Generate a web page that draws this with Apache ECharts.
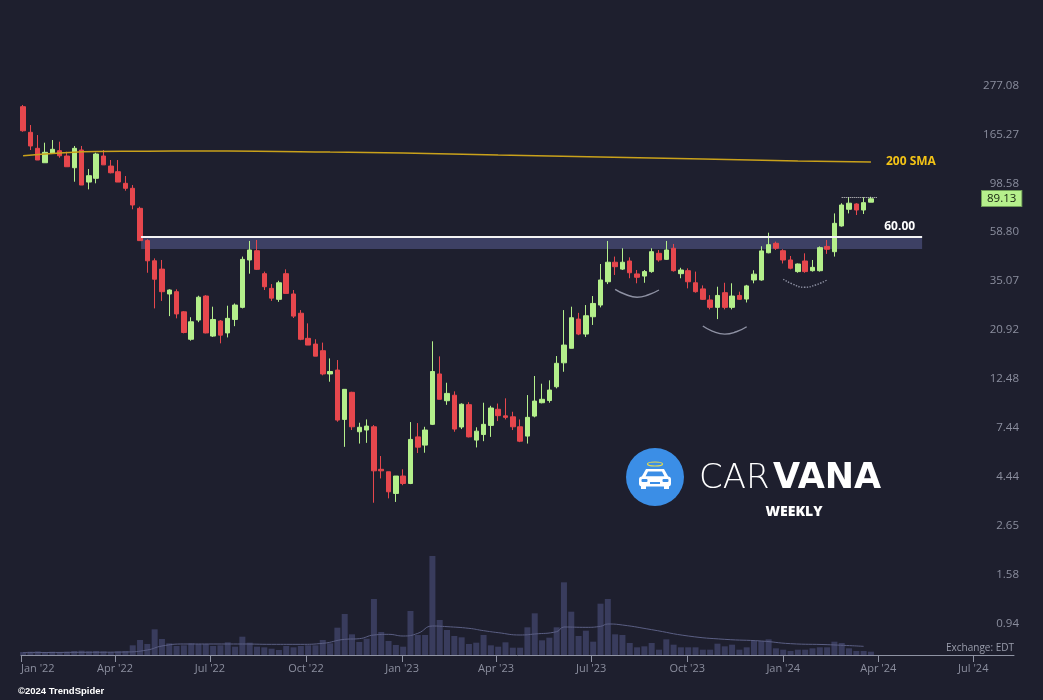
<!DOCTYPE html>
<html><head><meta charset="utf-8">
<script src="https://cdn.jsdelivr.net/npm/echarts@6/dist/echarts.min.js"></script>
<style>html,body{margin:0;padding:0;background:#1e1f2e;}#chart{width:1043px;height:700px;}</style>
</head><body><div id="chart"></div>
<script>
// ---------------- data ----------------
const firstWeek = '2022-01-03';   // weekly candles, one per week from this Monday
const candleOpen = [236.0,180.0,152.0,130.5,144.1,148.2,140.1,123.8,149.3,106.4,
110.7,140.1,126.0,118.7,105.0,99.6,80.6,57.3,46.3,42.4,
32.6,33.4,27.0,20.2,24.75,31.9,20.9,24.5,21.6,24.9,
28.3,46.7,51.5,40.4,34.6,30.8,40.4,32.6,26.6,20.4,
19.2,17.9,14.0,14.59,8.66,11.53,7.60,7.74,8.01,5.11,
4.98,3.96,4.76,4.40,7.20,6.60,8.22,14.0,10.55,11.18,
7.99,10.12,6.96,7.38,8.13,9.64,8.99,8.90,8.01,7.26,
8.97,10.33,10.57,12.23,15.75,18.36,25.0,21.34,25.63,29.0,
37.1,45.6,42.4,46.2,40.3,39.4,41.3,50.1,47.0,52.85,
40.4,41.7,36.7,34.4,30.6,28.3,33.06,28.3,32.1,30.9,
37.8,37.8,50.4,55.7,51.5,46.7,41.3,46.2,41.7,41.7,
53.9,50.97,66.9,79.8,84.4,79.2,86.0];
const candleClose = [183.0,155.8,134.3,145.7,150.4,140.5,125.1,152.0,103.1,113.8,
143.1,127.6,117.4,106.4,99.6,83.5,57.3,46.3,38.1,33.4,
34.0,26.4,21.7,24.3,31.5,21.6,24.9,21.1,25.2,29.0,
47.0,51.9,42.3,35.2,31.2,36.7,32.8,25.8,20.2,19.0,
16.9,14.0,14.37,8.60,11.9,8.01,7.97,8.07,5.03,5.03,
4.03,4.76,4.40,7.01,6.46,7.74,14.37,10.71,11.4,7.82,
10.17,7.20,7.65,8.22,9.77,9.01,8.85,8.01,6.88,8.85,
10.51,10.71,11.81,15.67,19.0,25.36,21.34,25.9,29.5,37.8,
45.6,43.5,45.6,40.8,38.9,41.3,50.97,46.7,51.9,41.7,
42.0,37.1,33.4,30.8,28.3,32.1,28.3,31.9,30.8,35.5,
40.2,51.4,54.9,52.85,46.7,42.8,44.75,41.3,43.2,53.2,
52.3,68.8,83.5,85.1,79.2,85.6,89.13];
const candleLow = [181.1,149.3,134.3,130.5,144.1,137.6,125.1,106.8,103.1,98.5,
105.0,127.6,116.7,106.4,97.1,79.8,57.3,40.8,28.0,30.3,
25.8,25.2,21.5,19.9,24.2,21.5,20.7,19.35,20.6,23.2,
28.0,40.4,42.0,34.0,30.3,30.0,32.8,25.3,20.0,19.0,
16.9,13.8,12.9,8.45,6.48,7.74,6.71,6.76,3.59,4.64,
3.76,3.62,4.32,4.37,6.07,6.09,8.16,10.71,10.1,7.60,
7.82,7.16,6.44,6.88,7.20,8.51,8.66,7.74,6.81,6.71,
8.85,10.26,10.33,12.02,14.33,18.36,21.1,20.7,23.5,28.3,
36.2,39.85,42.0,38.5,36.5,36.7,40.8,45.85,46.7,41.3,
38.5,34.6,33.06,30.6,27.7,25.0,27.7,27.7,30.6,29.8,
36.5,37.5,50.1,51.9,45.0,42.3,40.8,40.8,41.3,41.3,
49.8,48.4,66.4,76.4,75.1,75.9,86.0];
const candleHigh = [240.3,194.4,174.9,161.3,165.9,163.0,146.6,155.8,155.8,122.1,
145.1,149.3,134.3,134.3,113.4,103.1,82.0,58.1,47.5,46.7,
34.25,34.25,27.2,25.5,32.0,32.2,28.5,24.75,28.8,29.5,
48.4,57.1,57.7,41.3,36.2,37.5,42.3,34.0,27.5,23.9,
20.2,19.5,16.5,16.22,11.9,11.6,8.36,8.66,8.16,5.88,
4.98,4.76,5.11,8.42,8.33,8.01,19.77,16.86,12.76,11.65,
10.26,10.39,7.97,10.33,10.0,10.24,10.82,9.39,8.66,11.2,
13.7,12.63,13.09,16.92,27.5,28.5,26.7,29.0,31.9,44.75,
57.1,48.4,52.85,48.0,42.0,42.0,52.85,51.9,57.1,55.3,
43.0,42.75,41.3,35.7,32.2,35.2,36.7,36.5,33.4,35.9,
41.9,53.98,62.3,56.7,52.3,48.7,45.0,50.1,46.7,53.9,
57.7,76.4,85.1,90.6,85.1,90.6,91.1];
// weekly volume (millions of shares, estimated)
const volumeM = [9,10,11,9,10,9,10,12,13,11,
12,11,9,11,12,29,45,33,77,48,
35,27,29,35,33,33,27,29,38,25,
55,37,25,23,19,15,27,23,27,29,
29,45,35,82,123,62,39,49,168,69,
42,30,25,132,60,60,297,105,75,57,
53,33,37,60,29,25,38,22,22,83,
125,44,52,83,218,130,57,73,40,154,
168,62,60,36,23,26,36,16,47,31,
23,23,23,16,16,34,26,31,16,23,
42,42,47,20,16,12,16,16,20,23,
23,40,36,20,12,12,10];
// volume moving average, read at these week indexes
const volMaWeek  = [0,7,14,17,19,22,26,30,34,38,41,44,46,48,50,52,54,56,58,61,63,65,68,70,73,74,77,79,80,82,86,91,96,101,105,110,115];
const volMaValue = [7,8,9,15,27,33,33,33,32,32,35,47,49,60,62,57,65,87,85,80,73,67,60,63,70,84,83,86,93,90,76,57,47,42,34,31,26];
// 200 SMA, read at these week indexes
const smaWeek  = [0,5,10,17,24,32,42,52,65,79,93,106,116];
const smaValue = [140.5,144.6,147.0,147.5,147.7,147.5,146.0,144.6,141.6,138.6,135.7,132.9,131.5];
const smaLabel = '200 SMA';
// price axis tick labels (log scale)
const yTickLabels = ['0.94','1.58','2.65','4.44','7.44','12.48','20.92','35.07','58.80','98.58','165.27','277.08'];
// date axis ticks
const xTickDates  = ['2022-01-01','2022-04-01','2022-07-01','2022-10-01','2023-01-01','2023-04-01','2023-07-01','2023-10-01','2024-01-01','2024-04-01','2024-07-01'];
const xTickLabels = ["Jan '22","Apr '22","Jul '22","Oct '22","Jan '23","Apr '23","Jul '23","Oct '23","Jan '24","Apr '24","Jul '24"];
const xRange = ['2022-01-01','2024-08-09'];
// resistance zone
const resistanceLevel = 60;
const resistanceLabel = '60.00';
const resistanceBandLow = 52.5;
const resistanceDates = ['2022-04-26','2024-05-13'];
const lastPrice = 89.13;
const recentHigh = 91.1;
const recentHighDates = ['2024-02-26','2024-03-31'];
// rounded-bottom annotations
const cupArcDates = [
  ['2023-07-24','2023-08-02','2023-08-14','2023-08-25','2023-09-04'],
  ['2023-10-16','2023-10-25','2023-11-06','2023-11-17','2023-11-27'],
  ['2024-01-01','2024-01-10','2024-01-21','2024-02-01','2024-02-12']];
const cupArcPrices = [
  [34.25,32.6,31.5,32.35,34.0],
  [23.23,22.03,21.34,21.87,23.06],
  [38.1,36.2,35.0,35.85,37.8]];
const cupArcDotted = [false,false,true];

// ---------------- helpers ----------------
const DAY = 86400000;
function ts(s){const p=s.split('-').map(Number);return Date.UTC(p[0],p[1]-1,p[2]);}
function weekTs(k){return ts(firstWeek)+7*k*DAY;}
const LOG0 = Math.log(parseFloat(yTickLabels[0]));
const STEP = (Math.log(parseFloat(yTickLabels[yTickLabels.length-1])) - LOG0)/(yTickLabels.length-1);
function u(p){return (Math.log(p)-LOG0)/STEP;}   // log-price expressed in tick steps
const yTickPos = yTickLabels.map(s=>u(parseFloat(s)));

const UP='#b4ef8b', DOWN='#e6474d', GRID_TXT='#8b8e9e';
const candleData = candleOpen.map((o,k)=>[weekTs(k), u(o), u(candleClose[k]), u(candleLow[k]), u(candleHigh[k])]);
const volData = volumeM.map((v,k)=>[weekTs(k), v]);
const volMaData = volMaWeek.map((k,i)=>[weekTs(k), volMaValue[i]]);
const smaData = smaWeek.map((k,i)=>[weekTs(k), u(smaValue[i])]);
const xTickTs = xTickDates.map(ts);

const arcSeries = cupArcDates.map((ds,i)=>({
  type:'line', xAxisIndex:0, yAxisIndex:0, smooth:true, showSymbol:false, silent:true, z:4,
  data: ds.map((d,j)=>[ts(d), u(cupArcPrices[i][j])]),
  lineStyle:{color:'#8e91a3', width:1.4, type: cupArcDotted[i] ? 'dotted' : 'solid'}
}));

const chart = echarts.init(document.getElementById('chart'), null, {renderer:'canvas'});
chart.setOption({
  backgroundColor:'#1e1f2e',
  animation:false,
  title:[
    {text:'Exchange: EDT', right:29, top:643, padding:0,
     textStyle:{color:'#9a9dac', fontSize:10, fontWeight:'normal', fontFamily:'Open Sans'}},
    {text:'\u00a92024 TrendSpider', left:18, top:686, padding:0,
     textStyle:{color:'#ffffff', fontSize:9.5, fontWeight:'bold', fontFamily:'Liberation Sans'}}
  ],
  grid:[
    {left:21, right:29, top:40, bottom:45, outerBoundsMode:'none'},
    {left:21, right:29, top:355, bottom:45, outerBoundsMode:'none'}
  ],
  xAxis:[
    {type:'value', gridIndex:0, min:ts(xRange[0]), max:ts(xRange[1]), scale:true,
     axisLine:{show:true, onZero:false, lineStyle:{color:'#8f93a3', width:1}},
     axisTick:{show:true, customValues:xTickTs, length:7, lineStyle:{color:'#8f93a3'}},
     axisLabel:{customValues:xTickTs, color:GRID_TXT, fontSize:11, margin:8, fontFamily:'Open Sans',
       alignMinLabel:'left', hideOverlap:false,
       formatter:function(v){let best=-1,bd=Infinity;xTickTs.forEach((t,i)=>{const d=Math.abs(t-v);if(d<bd){bd=d;best=i;}});return bd<2*DAY?xTickLabels[best]:'';}},
     splitLine:{show:false}},
    {type:'value', gridIndex:1, min:ts(xRange[0]), max:ts(xRange[1]), scale:true, show:false, splitLine:{show:false}}
  ],
  yAxis:[
    {type:'value', gridIndex:0, position:'right', min:-0.521, max:12.053,
     axisLine:{show:false}, axisTick:{show:false}, splitLine:{show:false},
     axisLabel:{customValues:yTickPos, align:'right', margin:5, verticalAlign:'bottom', lineHeight:12, color:GRID_TXT, fontSize:11.5, fontFamily:'Open Sans',
       hideOverlap:false,
       formatter:function(v){let best=-1,bd=Infinity;yTickPos.forEach((t,i)=>{const d=Math.abs(t-v);if(d<bd){bd=d;best=i;}});return bd<0.01?yTickLabels[best]:'';}}},
    {type:'value', gridIndex:1, min:0, max:900, show:false, splitLine:{show:false}}
  ],
  series:[
    {type:'bar', name:'Volume', xAxisIndex:1, yAxisIndex:1, data:volData, barWidth:6, silent:true,
     itemStyle:{color:'#393c5d'}, z:1},
    {type:'line', name:'Volume MA', xAxisIndex:1, yAxisIndex:1, data:volMaData, smooth:true, showSymbol:false, silent:true,
     lineStyle:{color:'#5b5f84', width:1}, z:1},
    {type:'candlestick', name:'CVNA', xAxisIndex:0, yAxisIndex:0, barWidth:5, z:2,
     dimensions:['date','open','close','lowest','highest'], encode:{x:0, y:[1,2,3,4]},
     data:candleData,
     itemStyle:{color:UP, color0:DOWN, borderColor:UP, borderColor0:DOWN, borderWidth:1},
     markArea:{silent:true, z:1, itemStyle:{color:'#3d4064'},
       data:[[{coord:[ts(resistanceDates[0]), u(resistanceLevel)]},{coord:[ts(resistanceDates[1]), u(resistanceBandLow)]}]]},
     markLine:{silent:true, symbol:['none','none'], animation:false,
       data:[
         [{coord:[ts(resistanceDates[0]), u(resistanceLevel)], lineStyle:{color:'#f4f4f4', width:2, type:'solid'},
           label:{show:true, position:'insideEndTop', formatter:resistanceLabel, color:'#ffffff', fontWeight:'bold', fontSize:12, fontFamily:'Open Sans', distance:[7,4]}},
          {coord:[ts(resistanceDates[1]), u(resistanceLevel)]}],
         [{coord:[ts(recentHighDates[0]), u(recentHigh)], lineStyle:{color:'#d8d8d8', width:1, type:'dotted'}, label:{show:false}},
          {coord:[ts(recentHighDates[1]), u(recentHigh)]}]
       ]}},
    {type:'line', name:smaLabel, xAxisIndex:0, yAxisIndex:0, data:smaData, smooth:true, showSymbol:false, silent:true, z:3,
     lineStyle:{color:'#c9a11b', width:1.5},
     endLabel:{show:true, formatter:smaLabel, color:'#f3c316', fontWeight:'bold', fontSize:12, fontFamily:'Open Sans', distance:15}},
    {type:'line', name:'Last price', xAxisIndex:0, yAxisIndex:0, data:[], silent:true, z:6,
     markLine:{silent:true, symbol:['none','none'], animation:false,
       data:[{yAxis:u(lastPrice), lineStyle:{color:'rgba(0,0,0,0)', width:1},
          label:{show:true, position:'end', formatter:String(lastPrice), distance:-32, color:'#16210f', fontSize:11.5, fontFamily:'Open Sans',
            backgroundColor:'#b6f08c', borderColor:'#6f9c57', borderWidth:1, padding:[2,5,1,5]}}]}}
  ].concat(arcSeries),
  graphic:[
    {type:'circle', shape:{cx:655, cy:477, r:29}, style:{fill:'#3b8ee6'}, silent:true},
    {type:'ellipse', shape:{cx:655, cy:464, rx:7.5, ry:2}, style:{fill:null, stroke:'#e8dc4c', lineWidth:1.2}, silent:true},
    {type:'polygon', shape:{points:[[646,469],[664,469],[668.5,477],[641.5,477]]}, style:{fill:'#ffffff'}, silent:true},
    {type:'polygon', shape:{points:[[648,471.5],[662,471.5],[664.5,476.5],[645.5,476.5]]}, style:{fill:'#3b8ee6'}, silent:true},
    {type:'rect', shape:{x:639, y:476.5, width:32, height:10, r:3}, style:{fill:'#ffffff'}, silent:true},
    {type:'rect', shape:{x:641.5, y:479, width:6, height:3, r:1}, style:{fill:'#3b8ee6'}, silent:true},
    {type:'rect', shape:{x:662.5, y:479, width:6, height:3, r:1}, style:{fill:'#3b8ee6'}, silent:true},
    {type:'rect', shape:{x:650, y:482, width:10, height:2}, style:{fill:'#3b8ee6'}, silent:true},
    {type:'rect', shape:{x:641, y:486, width:5, height:3}, style:{fill:'#ffffff'}, silent:true},
    {type:'rect', shape:{x:664, y:486, width:5, height:3}, style:{fill:'#ffffff'}, silent:true},
    {type:'text', x:699, y:479, silent:true,
     style:{text:'CAR', fill:'#ffffff', fontSize:34, fontWeight:200, fontFamily:'DejaVu Sans', align:'left', verticalAlign:'middle'}},
    {type:'text', x:773, y:479, silent:true,
     style:{text:'VANA', fill:'#ffffff', fontSize:35, fontWeight:'bold', fontFamily:'DejaVu Sans', align:'left', verticalAlign:'middle'}},
    {type:'text', x:794, y:512, silent:true,
     style:{text:'WEEKLY', fill:'#ffffff', fontSize:14, fontWeight:800, fontFamily:'Open Sans', align:'center', verticalAlign:'middle'}}
  ]
});
</script></body></html>
